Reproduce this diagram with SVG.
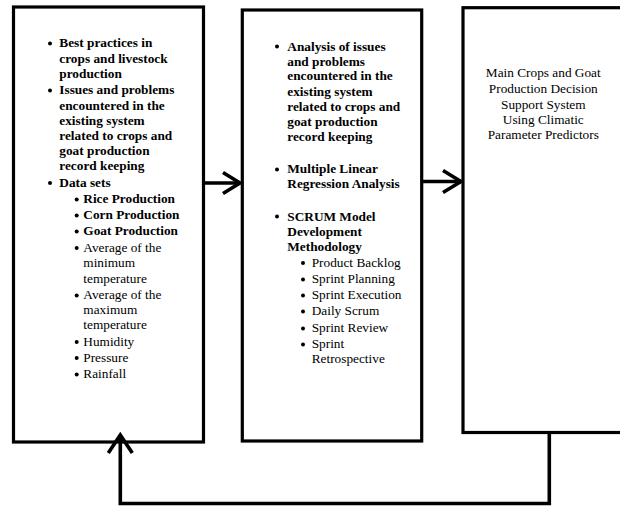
<svg xmlns="http://www.w3.org/2000/svg" width="620" height="508" viewBox="0 0 620 508">
<style>
.box{fill:#fff;stroke:#000;stroke-width:3.2}
.conn{fill:none;stroke:#000;stroke-width:3.6;stroke-linejoin:miter}
.head{fill:none;stroke:#000;stroke-width:3.6;stroke-linecap:butt;stroke-linejoin:miter}
text{font-family:"Liberation Serif","Times New Roman",serif;font-size:13.3px;fill:#000}
.b{font-weight:bold}
.c{text-anchor:middle}
.dot{fill:#000}
</style>
<rect width="620" height="508" fill="#fff"/>
<g id="node-inputs">
<rect class="box" x="13.5" y="7" width="190" height="435"/>
<g class="dot"><circle cx="50" cy="43.5" r="2"/><circle cx="50" cy="90.5" r="2"/><circle cx="50" cy="183" r="2"/>
<circle cx="76.7" cy="199.5" r="2"/><circle cx="76.7" cy="215.5" r="2"/><circle cx="76.7" cy="231.5" r="2"/><circle cx="76.7" cy="248" r="2"/><circle cx="76.7" cy="295.5" r="2"/><circle cx="76.7" cy="342" r="2"/><circle cx="76.7" cy="358" r="2"/><circle cx="76.7" cy="374.5" r="2"/></g>
<text class="b" x="59.3" y="47.3">Best practices in</text>
<text class="b" x="59.3" y="62.5">crops and livestock</text>
<text class="b" x="59.3" y="77.5">production</text>
<text class="b" x="59.3" y="94.3">Issues and problems</text>
<text class="b" x="59.3" y="109.8">encountered in the</text>
<text class="b" x="59.3" y="124.8">existing system</text>
<text class="b" x="59.3" y="140">related to crops and</text>
<text class="b" x="59.3" y="155">goat production</text>
<text class="b" x="59.3" y="170.2">record keeping</text>
<text class="b" x="59.3" y="187">Data sets</text>
<text class="b" x="83.3" y="203.3">Rice Production</text>
<text class="b" x="83.3" y="219.3">Corn Production</text>
<text class="b" x="83.3" y="235.3">Goat Production</text>
<text x="83.3" y="251.7">Average of the</text>
<text x="83.3" y="267.3">minimum</text>
<text x="83.3" y="282.5">temperature</text>
<text x="83.3" y="299.2">Average of the</text>
<text x="83.3" y="314.2">maximum</text>
<text x="83.3" y="329.2">temperature</text>
<text x="83.3" y="345.8">Humidity</text>
<text x="83.3" y="361.5">Pressure</text>
<text x="83.3" y="378.3">Rainfall</text>
</g>
<g id="node-process">
<rect class="box" x="242.3" y="10" width="179.4" height="431"/>
<g class="dot"><circle cx="277" cy="46.5" r="2"/><circle cx="277" cy="169.5" r="2"/><circle cx="277" cy="216.5" r="2"/>
<circle cx="303" cy="263" r="2"/><circle cx="303" cy="279.5" r="2"/><circle cx="303" cy="295.5" r="2"/><circle cx="303" cy="311.5" r="2"/><circle cx="303" cy="328.5" r="2"/><circle cx="303" cy="344.5" r="2"/></g>
<text class="b" x="287.3" y="50.5">Analysis of issues</text>
<text class="b" x="287.3" y="65.5">and problems</text>
<text class="b" x="287.3" y="80.3">encountered in the</text>
<text class="b" x="287.3" y="95.7">existing system</text>
<text class="b" x="287.3" y="110.7">related to crops and</text>
<text class="b" x="287.3" y="125.7">goat production</text>
<text class="b" x="287.3" y="140.7">record keeping</text>
<text class="b" x="287.3" y="173.3">Multiple Linear</text>
<text class="b" x="287.3" y="188.3">Regression Analysis</text>
<text class="b" x="287.3" y="220.7">SCRUM Model</text>
<text class="b" x="287.3" y="235.7">Development</text>
<text class="b" x="287.3" y="250.5">Methodology</text>
<text x="311.7" y="266.7">Product Backlog</text>
<text x="311.7" y="283.3">Sprint Planning</text>
<text x="311.7" y="299">Sprint Execution</text>
<text x="311.7" y="315">Daily Scrum</text>
<text x="311.7" y="332.3">Sprint Review</text>
<text x="311.7" y="348.3">Sprint</text>
<text x="311.7" y="363.3">Retrospective</text>
</g>
<g id="node-output">
<rect class="box" x="463" y="7.7" width="200" height="424.8"/>
<text class="c" x="543.3" y="77.3">Main Crops and Goat</text>
<text class="c" x="543.3" y="93.3">Production Decision</text>
<text class="c" x="543.3" y="109">Support System</text>
<text class="c" x="543.3" y="124">Using Climatic</text>
<text class="c" x="543.3" y="139">Parameter Predictors</text>
</g>
<g id="connectors">
<path class="conn" d="M205,183 H240"/>
<path class="head" d="M223,172.5 L240,183 L223,193.5"/>
<path class="conn" d="M423,181.5 H461"/>
<path class="head" d="M443,170.5 L461,181.5 L443,192.5"/>
<path class="conn" d="M549.3,434 V503.5 H120.3 V437"/>
<path class="head" d="M108.3,453 L120.3,435 L132.3,453"/>
</g>
</svg>
